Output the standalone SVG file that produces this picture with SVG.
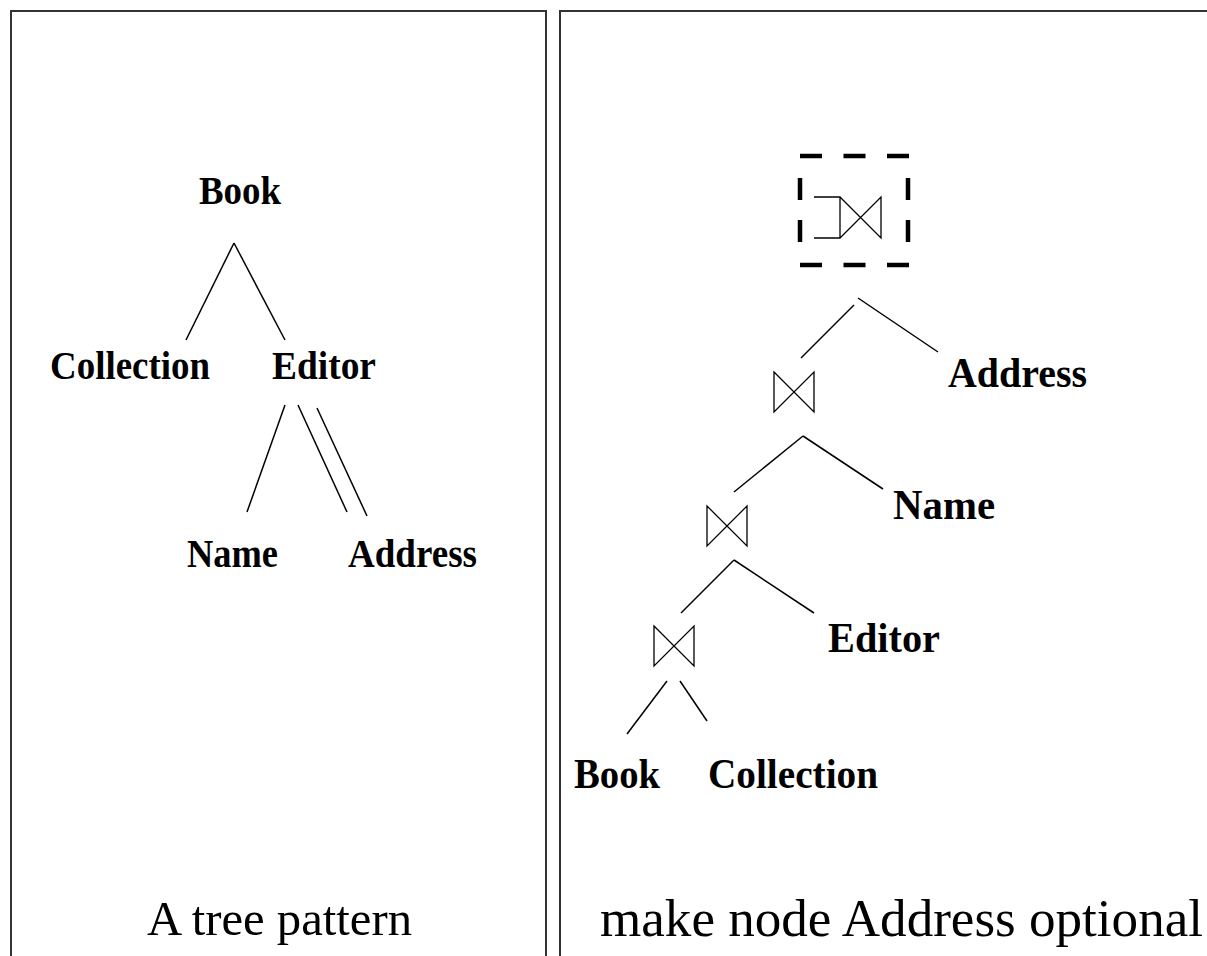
<svg xmlns="http://www.w3.org/2000/svg" width="1207" height="956" viewBox="0 0 1207 956">
  <style>
    .frame { fill: none; stroke: #333; stroke-width: 2; }
    .edge { stroke: #000; stroke-width: 1.5; fill: none; }
    .join { stroke: #000; stroke-width: 1.3; fill: none; stroke-linejoin: miter; }
    .lbl { font-family: "Liberation Serif", "Times New Roman", serif; font-weight: bold; fill: #000; }
    .ls { font-size: 40px; }
    .rs { font-size: 43px; }
    .cap { font-family: "Liberation Serif", "Times New Roman", serif; fill: #000; }
    .box { stroke: #000; stroke-width: 4.5; fill: none; }
  </style>
  <defs>
    <g id="bowtie">
      <path class="join" d="M0,0 L40,40 L40,0 L0,40 Z"/>
    </g>
  </defs>
  <rect width="1207" height="956" fill="#fff"/>

  <!-- panel frames (open at the bottom) -->
  <g id="frames">
    <path class="frame" d="M11,956 V11 H546 V956"/>
    <path class="frame" d="M560,956 V11 H1207"/>
  </g>

  <!-- left: the tree pattern -->
  <g id="left-edges">
    <line class="edge" x1="234" y1="243" x2="186" y2="340"/>
    <line class="edge" x1="234" y1="243" x2="285" y2="340"/>
    <line class="edge" x1="285" y1="405" x2="247" y2="512"/>
    <line class="edge" x1="298" y1="405" x2="347" y2="512"/>
    <line class="edge" x1="317" y1="408" x2="367" y2="516"/>
  </g>
  <g id="l-book"><text class="lbl ls" x="199" y="204" textLength="82" lengthAdjust="spacingAndGlyphs">Book</text></g>
  <g id="l-collection"><text class="lbl ls" x="50" y="379" textLength="160" lengthAdjust="spacingAndGlyphs">Collection</text></g>
  <g id="l-editor"><text class="lbl ls" x="272" y="379" textLength="104" lengthAdjust="spacingAndGlyphs">Editor</text></g>
  <g id="l-name"><text class="lbl ls" x="187" y="567" textLength="91" lengthAdjust="spacingAndGlyphs">Name</text></g>
  <g id="l-address"><text class="lbl ls" x="348" y="567" textLength="129" lengthAdjust="spacingAndGlyphs">Address</text></g>
  <g id="l-caption"><text class="cap" x="147" y="935" font-size="49" textLength="265" lengthAdjust="spacingAndGlyphs">A tree pattern</text></g>

  <!-- right: join plan -->
  <g id="right-edges">
    <line class="edge" x1="854" y1="305" x2="801" y2="358"/>
    <line class="edge" x1="858" y1="298" x2="938" y2="352"/>
    <line class="edge" x1="803" y1="436" x2="734" y2="492"/>
    <line class="edge" x1="803" y1="436" x2="883" y2="489"/>
    <line class="edge" x1="734" y1="560" x2="681" y2="613"/>
    <line class="edge" x1="734" y1="560" x2="814" y2="613"/>
    <line class="edge" x1="667" y1="681" x2="627" y2="734"/>
    <line class="edge" x1="680" y1="681" x2="707" y2="721"/>
  </g>

  <!-- optional (outer) join, highlighted by a dashed box -->
  <g id="outer-join">
    <line class="box" x1="800" y1="156" x2="909" y2="156" stroke-dasharray="22 21.5"/>
    <line class="box" x1="800" y1="265" x2="909" y2="265" stroke-dasharray="22 21.5"/>
    <line class="box" x1="800" y1="178" x2="800" y2="243" stroke-dasharray="22 20"/>
    <line class="box" x1="908" y1="178" x2="908" y2="243" stroke-dasharray="22 20"/>
    <path class="join" d="M814,197 H840 V238 H814 M840,197 L881,238 V197 L840,238"/>
  </g>
  <g id="join-1"><use href="#bowtie" x="774" y="372"/></g>
  <g id="join-2"><use href="#bowtie" x="707" y="506"/></g>
  <g id="join-3"><use href="#bowtie" x="654" y="626"/></g>

  <g id="r-address"><text class="lbl rs" x="948" y="387" textLength="139" lengthAdjust="spacingAndGlyphs">Address</text></g>
  <g id="r-name"><text class="lbl rs" x="893" y="519" textLength="102" lengthAdjust="spacingAndGlyphs">Name</text></g>
  <g id="r-editor"><text class="lbl rs" x="828" y="652" textLength="112" lengthAdjust="spacingAndGlyphs">Editor</text></g>
  <g id="r-book"><text class="lbl rs" x="574" y="788" textLength="86" lengthAdjust="spacingAndGlyphs">Book</text></g>
  <g id="r-collection"><text class="lbl rs" x="708" y="788" textLength="170" lengthAdjust="spacingAndGlyphs">Collection</text></g>
  <g id="r-caption"><text class="cap" x="600" y="936" font-size="53" textLength="603" lengthAdjust="spacingAndGlyphs">make node Address optional</text></g>
</svg>
